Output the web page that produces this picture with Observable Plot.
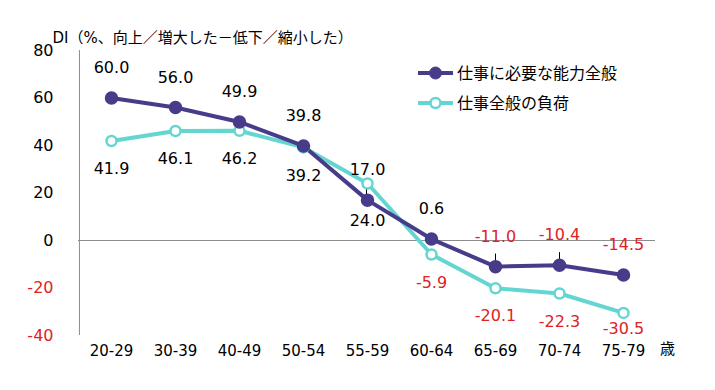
<!DOCTYPE html>
<html><head><meta charset="utf-8">
<script src="https://cdn.jsdelivr.net/npm/d3@7"></script>
<script src="https://cdn.jsdelivr.net/npm/@observablehq/plot@0.6"></script>
<style>body{margin:0;background:#fff}</style>
</head><body><div id="chart"></div>
<script>
const categories = ["20-29","30-39","40-49","50-54","55-59","60-64","65-69","70-74","75-79"];
const seriesNames = ["仕事に必要な能力全般","仕事全般の負荷"];
const ability = [60.0, 56.0, 49.9, 39.8, 17.0, 0.6, -11.0, -10.4, -14.5];
const burden = [41.9, 46.1, 46.2, 39.2, 24.0, -5.9, -20.1, -22.3, -30.5];
const yTicks = [80, 60, 40, 20, 0, -20, -40];
const title = "DI（%、向上／増大した－低下／縮小した）";
const unitLabel = "歳";
const leaderCats = ["65-69","70-74"];

const PURPLE = "#463c8a", TEAL = "#63d6d2", RED = "#e02222", GRAY = "#8c8c8c";
const FONT = "'DejaVu Sans','Noto Sans CJK JP',sans-serif";
const rows = categories.map((c,i)=>({cat:c, a:ability[i], b:burden[i]}));
const fmt = v => v.toFixed(1);
const W = 715, H = 390, ML = 78, MR = 60, MT = 50, MB = 55;
const halfBand = (W-ML-MR)/categories.length/2;
const pxPerUnit = (H-MT-MB)/120;
// teal labels go below the point (or below the purple point if it is lower), clamped above the x labels
const tealLabelY = d => Math.max(Math.min(d.b, d.a + 3) - 28/pxPerUnit, -37.3);

const plot = Plot.plot({
  width: W, height: H,
  marginLeft: ML, marginRight: MR, marginTop: MT, marginBottom: MB,
  style: {fontFamily: FONT, background: "#fff", overflow: "visible"},
  x: {type: "band", domain: categories, padding: 0, axis: null},
  y: {domain: [-40, 80], axis: null},
  marks: [
    Plot.ruleY([0], {stroke: GRAY, strokeWidth: 1}),
    Plot.ruleX([categories[0]], {dx: -halfBand, y1: -40, y2: 80, stroke: GRAY, strokeWidth: 1}),
    Plot.text(yTicks, {y: d=>d, text: d=>String(d), frameAnchor: "left", dx: -25, textAnchor: "end", fontSize: 16, fill: d=> d<0 ? RED : "#000"}),
    Plot.text(categories, {x: d=>d, frameAnchor: "bottom", dy: 20, fontSize: 15, fill: "#000"}),
    Plot.text([unitLabel], {frameAnchor: "bottom-right", dx: 12, dy: 18, fontSize: 15, fill: "#000", textAnchor: "middle"}),
    Plot.text([title], {frameAnchor: "top-left", dx: -26, dy: -18, fontSize: 15, textAnchor: "start", fill: "#000"}),
    Plot.link(rows.filter(r=>leaderCats.includes(r.cat)), {x1: "cat", x2: "cat", y1: "a", y2: d=>d.a+5.5, stroke: "#000", strokeWidth: 1}),
    Plot.link(rows.filter(r=>r.cat==="55-59"), {x1: "cat", x2: "cat", y1: "b", y2: "a", stroke: "#000", strokeWidth: 1, dx: -1}),
    Plot.line(rows, {x: "cat", y: "b", stroke: TEAL, strokeWidth: 4}),
    Plot.line(rows, {x: "cat", y: "a", stroke: PURPLE, strokeWidth: 4}),
    Plot.dot(rows, {x: "cat", y: "b", r: 5, fill: "#fff", stroke: TEAL, strokeWidth: 2.5}),
    Plot.dot(rows, {x: "cat", y: "a", r: 6, fill: PURPLE, stroke: PURPLE}),
    Plot.text(rows, {x: "cat", y: "a", text: d=>fmt(d.a), dy: -30, fontSize: 16, fill: d=> d.a<0 ? RED : "#000"}),
    Plot.text(rows, {x: "cat", y: tealLabelY, text: d=>fmt(d.b), fontSize: 16, fill: d=> d.b<0 ? RED : "#000"})
  ]
});

const svg = d3.select(plot);
const leg = svg.append("g").attr("font-family", FONT).attr("text-anchor", "start");
[[seriesNames[0], PURPLE, true, 73],[seriesNames[1], TEAL, false, 103]].forEach(([name, col, filled, y])=>{
  leg.append("line").attr("x1",418).attr("x2",453).attr("y1",y).attr("y2",y).attr("stroke",col).attr("stroke-width",4);
  leg.append("circle").attr("cx",435.5).attr("cy",y).attr("r", filled?6:5)
    .attr("fill", filled?col:"#fff").attr("stroke", col).attr("stroke-width", filled?1:2.5);
  leg.append("text").attr("x",457).attr("y",y).attr("dy","0.35em").attr("font-size",16).attr("fill","#000").text(name);
});
document.getElementById("chart").appendChild(plot);
</script>
</body></html>
